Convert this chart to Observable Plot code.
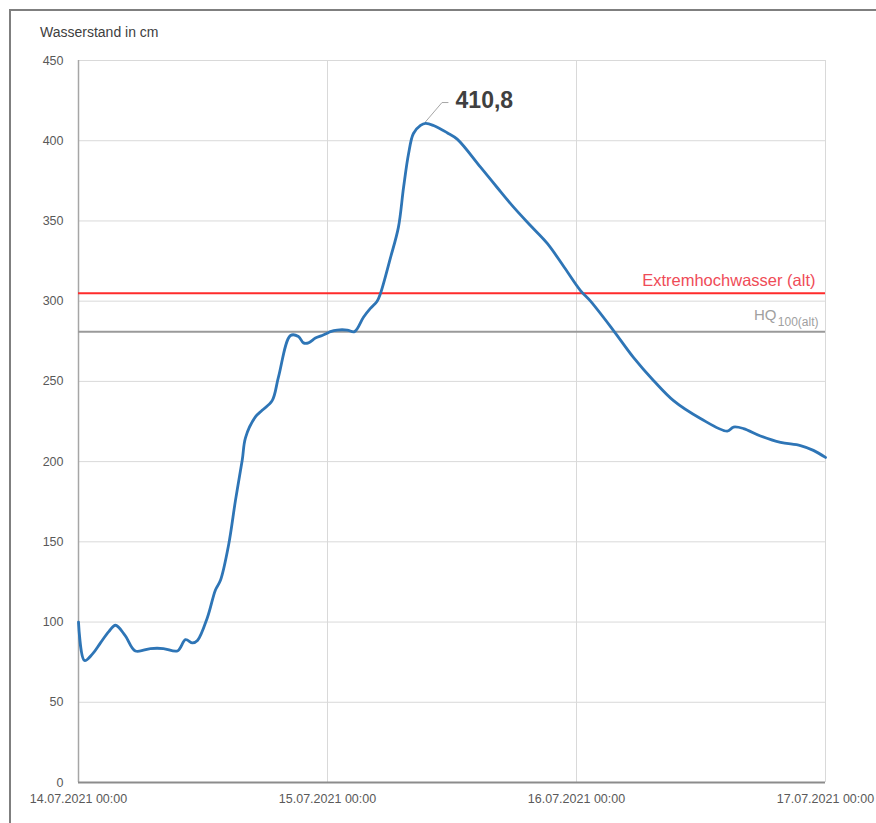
<!DOCTYPE html>
<html><head><meta charset="utf-8">
<script src="https://cdn.jsdelivr.net/npm/d3@7"></script>
<script src="https://cdn.jsdelivr.net/npm/@observablehq/plot@0.6"></script>
<style>
body{margin:0;background:#fff;font-family:"Liberation Sans",Arial,sans-serif;}
#wrap{position:relative;width:876px;height:823px;overflow:hidden;background:#fff;}
#frame{position:absolute;left:9px;top:9px;width:900px;height:900px;border:2px solid #7f7f7f;box-sizing:border-box;}
#title{position:absolute;left:40px;top:24px;font-size:14px;color:#404040;}
#chart{position:absolute;left:0;top:0;}
</style></head><body>
<div id="wrap"><div id="frame"></div><div id="title">Wasserstand in cm</div><div id="chart"></div></div>
<script>
// Messzeitpunkte
const times = [
"2021-07-14T00:00","2021-07-14T00:35","2021-07-14T01:20","2021-07-14T02:07","2021-07-14T02:55","2021-07-14T03:34","2021-07-14T04:30",
"2021-07-14T05:29","2021-07-14T06:56","2021-07-14T08:11","2021-07-14T09:32","2021-07-14T10:19",
"2021-07-14T10:59","2021-07-14T11:28","2021-07-14T12:26","2021-07-14T13:12","2021-07-14T13:41",
"2021-07-14T14:28","2021-07-14T15:08","2021-07-14T15:47","2021-07-14T16:06","2021-07-14T17:04",
"2021-07-14T17:42","2021-07-14T18:40","2021-07-14T19:17","2021-07-14T20:26","2021-07-14T21:12",
"2021-07-14T21:41","2021-07-14T22:10","2021-07-14T22:50","2021-07-14T23:29","2021-07-14T23:58",
"2021-07-15T00:17","2021-07-15T00:56","2021-07-15T01:54","2021-07-15T02:36","2021-07-15T03:28",
"2021-07-15T04:08","2021-07-15T04:47","2021-07-15T05:07","2021-07-15T06:04","2021-07-15T06:50",
"2021-07-15T07:20","2021-07-15T07:49","2021-07-15T08:17","2021-07-15T08:58","2021-07-15T09:27",
"2021-07-15T10:13","2021-07-15T11:32","2021-07-15T12:30","2021-07-15T14:45","2021-07-15T16:20","2021-07-15T17:56",
"2021-07-15T19:35","2021-07-15T21:11","2021-07-15T22:50","2021-07-16T00:23","2021-07-16T01:21","2021-07-16T03:34","2021-07-16T05:29",
"2021-07-16T07:25","2021-07-16T09:21","2021-07-16T11:57","2021-07-16T14:32","2021-07-16T15:08",
"2021-07-16T16:06","2021-07-16T17:44","2021-07-16T19:40","2021-07-16T21:35","2021-07-16T22:50",
"2021-07-17T00:00"
];
// Wasserstand in cm
const levels = [
100,76,80,87,94,98,91.6,
82,83.5,83.5,82,89,
87,88.5,103,120,126,
148,176,201,215,228,
232,238,253,278.6,278,
274,274,277,278.6,280,
281,282,282,281,290,
295.5,300,305,327,346,
371,392,404.5,409.5,410.8,
409.5,405,401,383.5,371,358.6,
347,336,321,306.6,300,281.7,265,
250.6,238,226.9,219,221.5,
220.6,216,212,210,207,
202.6
];
const yTicks = [0,50,100,150,200,250,300,350,400,450];
const xTickTimes = ["2021-07-14T00:00","2021-07-15T00:00","2021-07-16T00:00","2021-07-17T00:00"];
const xTickLabels = ["14.07.2021 00:00","15.07.2021 00:00","16.07.2021 00:00","17.07.2021 00:00"];
const refValues = [305, 281];
const refLabels = ["Extremhochwasser (alt)", "HQ"];
const refSubLabels = ["", "100(alt)"];
const refColors = ["#ff2b2b", "#9a9a9a"];
const refTextColors = ["#ef4b57", "#a0a0a0"];

const parse = s => new Date(s + ":00Z");
const data = times.map((t, i) => ({t: parse(t), v: levels[i]}));
const xTickDates = xTickTimes.map(parse);
const xDomain = [xTickDates[0], xTickDates[xTickDates.length - 1]];
const refs = refValues.map((v, i) => ({v, label: refLabels[i], sub: refSubLabels[i], color: refColors[i], tcolor: refTextColors[i]}));
const peak = d3.greatest(data, d => d.v);
const fmtDE = v => String(v).replace(".", ",");
const leader = [
  {t: peak.t, v: peak.v + 1},
  {t: d3.utcMinute.offset(peak.t, 95), v: peak.v + 13},
  {t: d3.utcMinute.offset(peak.t, 130), v: peak.v + 13}
];
const labelFor = d => xTickLabels[xTickDates.findIndex(x => +x === +d)];

const chart = Plot.plot({
  width: 876, height: 823,
  marginLeft: 78, marginRight: 51, marginTop: 60, marginBottom: 41,
  style: {fontFamily: '"Liberation Sans", Arial, sans-serif', fontSize: "12.5px", color: "#595959", background: "transparent", overflow: "visible"},
  x: {type: "utc", domain: xDomain, label: null},
  y: {domain: [0, 450], label: null},
  marks: [
    Plot.gridY(yTicks, {stroke: "#d9d9d9", strokeOpacity: 1}),
    Plot.gridX(xTickDates, {stroke: "#d9d9d9", strokeOpacity: 1}),
    Plot.ruleX([xDomain[0]], {stroke: "#a6a6a6", strokeWidth: 1.5}),
    Plot.ruleY([0], {stroke: "#8c8c8c", strokeWidth: 2}),
    Plot.axisY(yTicks, {tickSize: 0, tickPadding: 15, fill: "#595959", fontSize: 12.5, label: null}),
    Plot.axisX(xTickDates, {tickSize: 0, tickPadding: 12, tickFormat: labelFor, fill: "#595959", fontSize: 12.5, label: null}),
    Plot.ruleY(refs, {y: "v", stroke: "color", strokeWidth: 2}),
    Plot.text(refs.filter(d => !d.sub), {x: () => xDomain[1], y: "v", text: "label", textAnchor: "end", dx: -10, dy: -12, fill: "tcolor", fontSize: 16.5}),
    Plot.text(refs.filter(d => d.sub), {x: () => xDomain[1], y: "v", text: "label", textAnchor: "end", dx: -49, dy: -16, fill: "tcolor", fontSize: 15}),
    Plot.text(refs.filter(d => d.sub), {x: () => xDomain[1], y: "v", text: "sub", textAnchor: "end", dx: -7, dy: -9, fill: "tcolor", fontSize: 12}),
    Plot.line(data, {x: "t", y: "v", stroke: "#2e75b6", strokeWidth: 2.8, curve: "catmull-rom", strokeLinejoin: "round"}),
    Plot.line(leader, {x: "t", y: "v", stroke: "#a6a6a6", strokeWidth: 1}),
    Plot.text([peak], {x: "t", y: "v", text: d => fmtDE(d.v), dx: 30, dy: -23, textAnchor: "start", fontWeight: "bold", fontSize: 23, fill: "#404040"})
  ]
});
document.getElementById("chart").appendChild(chart);
</script>
</body></html>
